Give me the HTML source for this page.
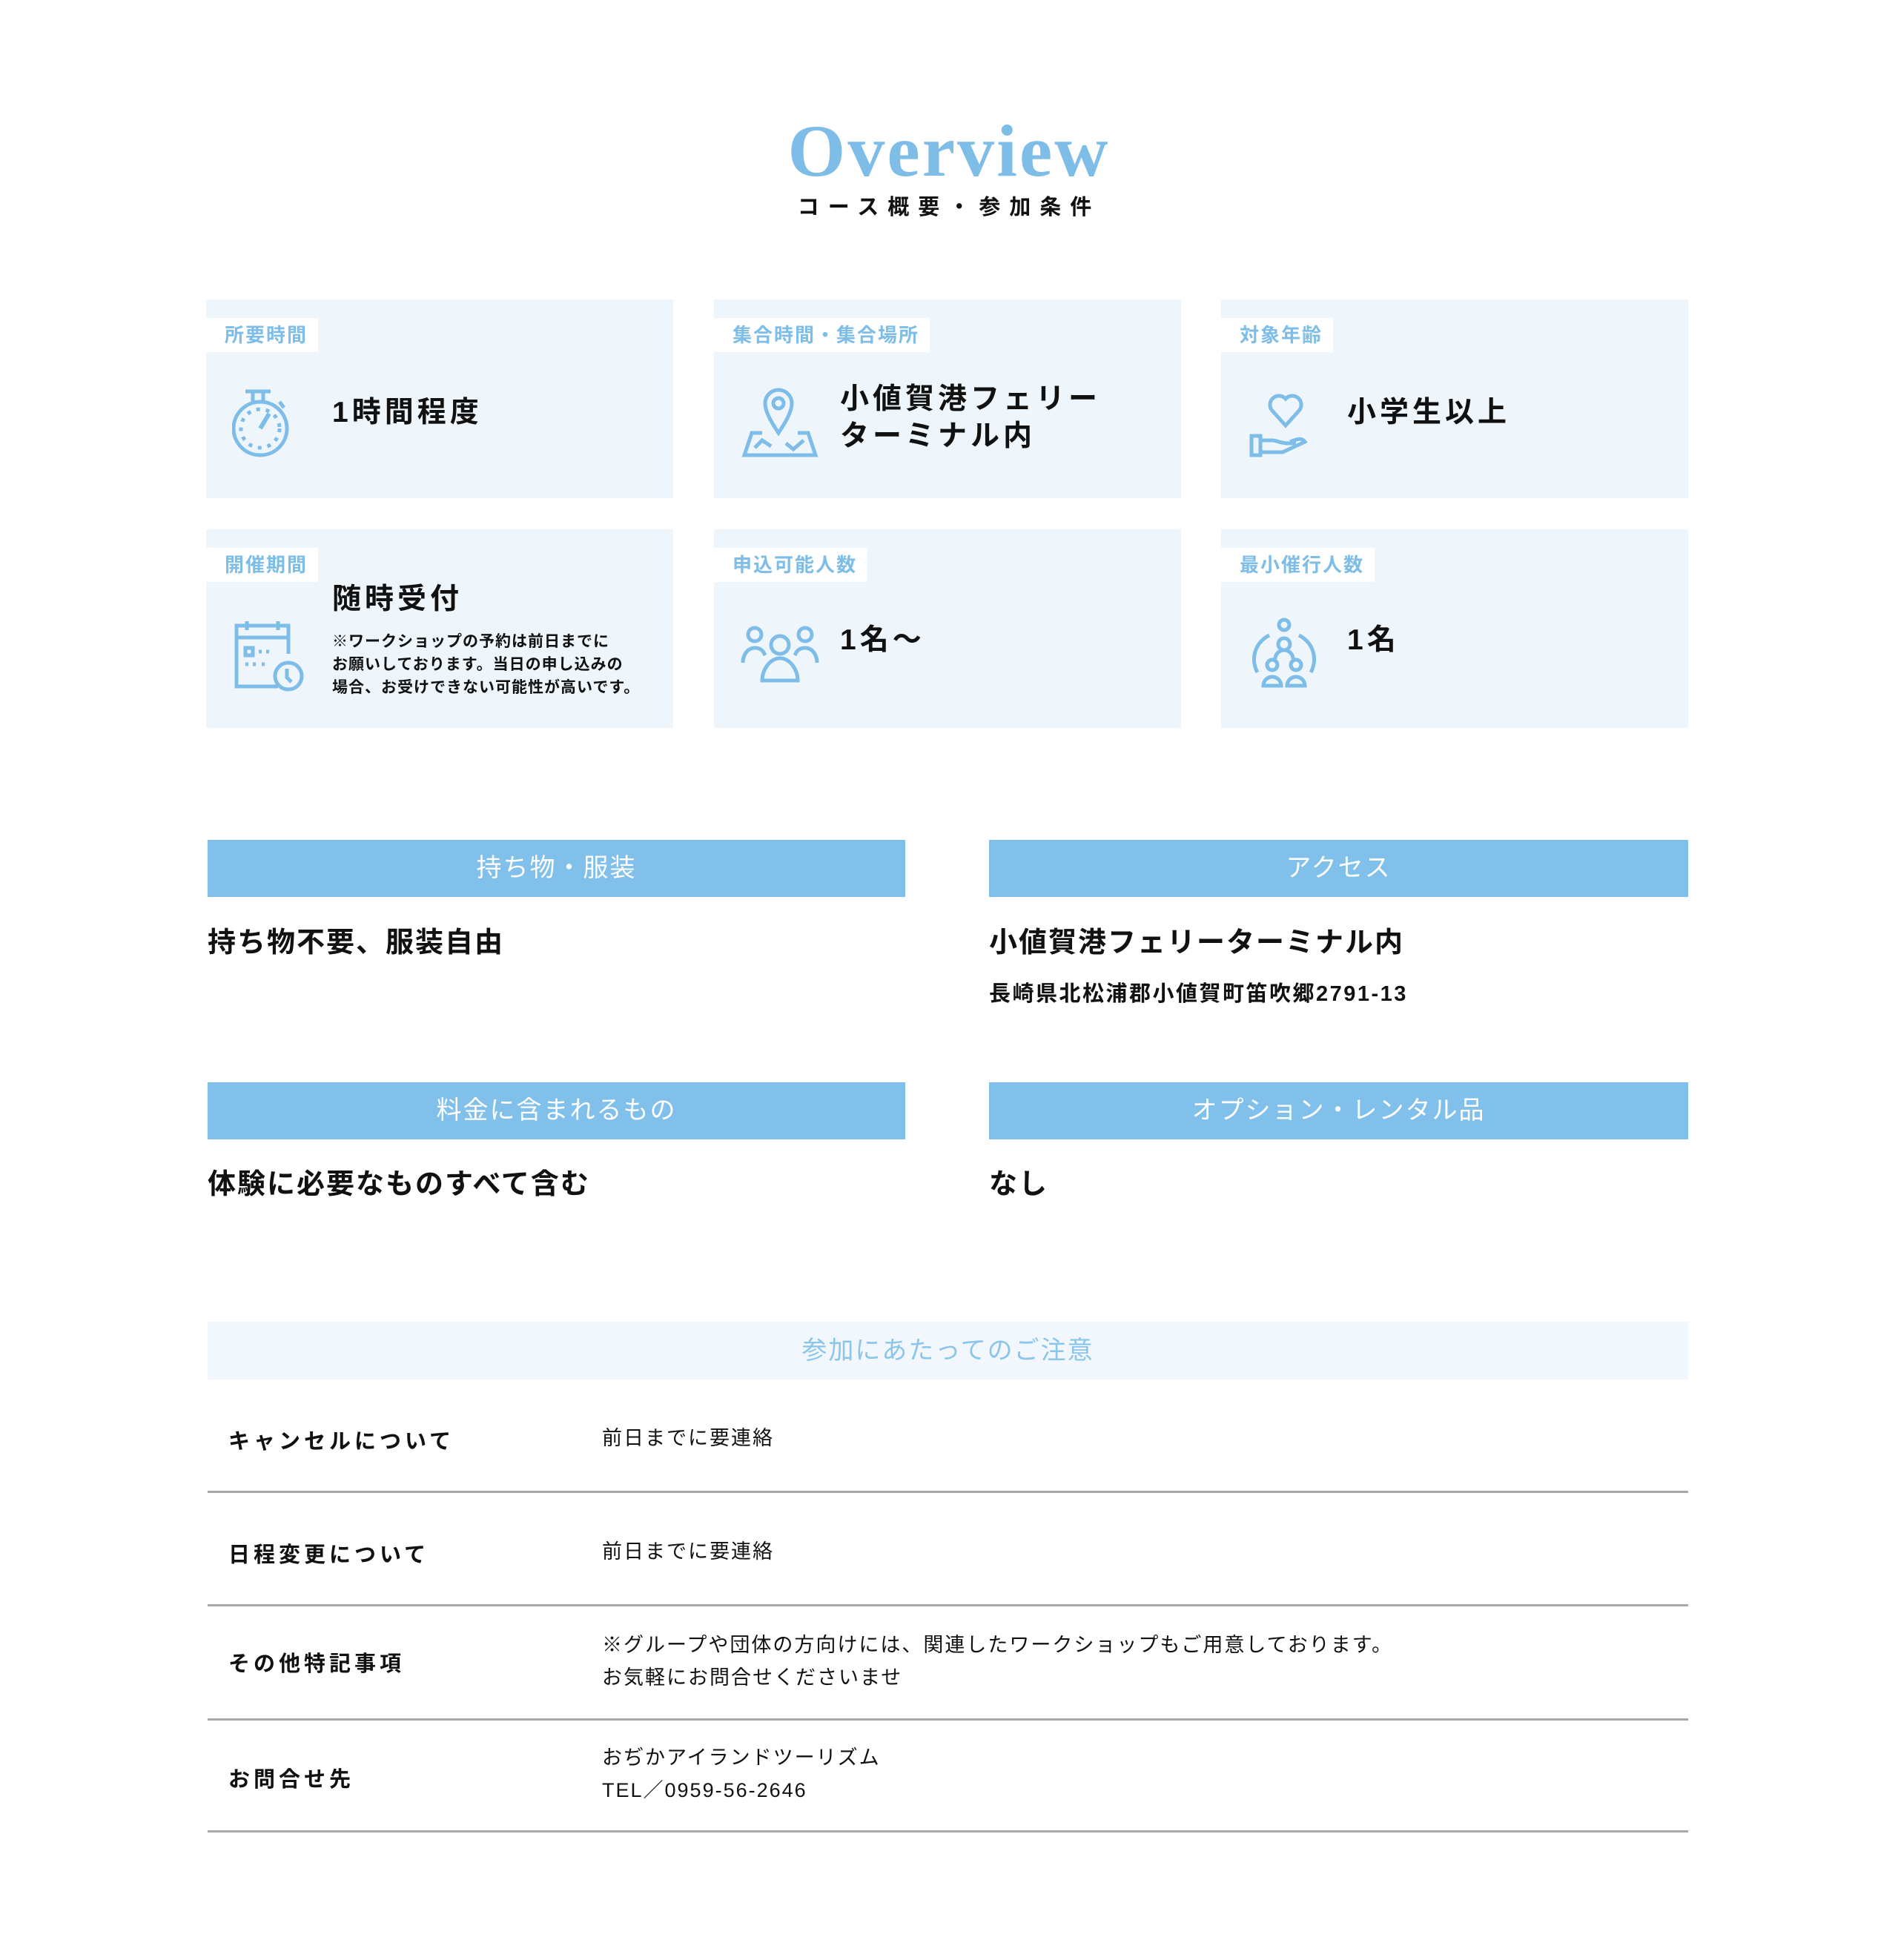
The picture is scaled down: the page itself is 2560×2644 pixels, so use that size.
<!DOCTYPE html>
<html><head><meta charset="utf-8"><style>
*{margin:0;padding:0;box-sizing:border-box}
body{width:2560px;height:2644px;background:#fff;position:relative;font-family:"Liberation Sans","Noto Sans CJK JP",sans-serif;color:#111;overflow:hidden}
.a{position:absolute}
.t{position:absolute;white-space:nowrap}
.card{position:absolute;width:630px;height:268px;background:#eef6fb}
.lab{position:absolute;left:0;top:25px;height:46px;background:#fff;color:#7dbde8;font-weight:bold;font-size:26px;line-height:46px;padding:0 14px 0 25px;letter-spacing:2px}
.main{position:absolute;left:170px;font-weight:bold;font-size:39px;letter-spacing:5px;line-height:50px}
.ic{position:absolute;left:35px;top:110px}
.bar{position:absolute;height:77px;background:#81c0ea;color:#fff;font-size:34px;line-height:77px;text-align:center;letter-spacing:2px}
.ct{position:absolute;font-weight:bold;font-size:38px;letter-spacing:2px;white-space:nowrap}
.rl{position:absolute;left:308px;font-weight:bold;font-size:29px;letter-spacing:5px;white-space:nowrap}
.rv{position:absolute;left:812px;font-size:27px;letter-spacing:2px;line-height:44px;white-space:nowrap}
.ln{position:absolute;left:280px;width:1997px;height:3px;background:#a8a8a8}
</style></head><body>
<div class="t" style="left:0;width:2560px;text-align:center;top:146px;font-family:'Liberation Serif',serif;font-size:100px;font-weight:bold;color:#7dbde8;letter-spacing:3px">Overview</div>
<div class="t" style="left:0;width:2560px;text-align:center;top:256px;font-size:29px;font-weight:bold;letter-spacing:12px">コース概要・参加条件</div>

<div class="card" style="left:278px;top:404px"><div class="lab">所要時間</div>
<svg class="ic" width="90" height="110" viewBox="0 0 90 110" fill="none" stroke="#7dbde8" stroke-width="5"><path d="M18 14h34M28 14v14M42 14v14M64 28l6 8"/><circle cx="38" cy="64" r="36"/><path d="M38 64l12-20" stroke-width="6"/><circle cx="38" cy="64" r="26" stroke-dasharray="5 8"/></svg>
<div class="main" style="top:128px">1時間程度</div></div>

<div class="card" style="left:963px;top:404px"><div class="lab">集合時間・集合場所</div>
<svg class="ic" width="110" height="110" viewBox="0 0 110 110" fill="none" stroke="#7dbde8" stroke-width="5"><path d="M52 70C40 52 34 40 34 30a18 18 0 0 1 36 0c0 10-6 22-18 40z"/><circle cx="52" cy="30" r="7"/><path d="M30 70h-14l-10 30h96l-10-30h-14M20 90l10-10 12 8M62 84l10 8 14-12"/></svg>
<div class="main" style="top:110px;line-height:50px">小値賀港フェリー<br>ターミナル内</div></div>

<div class="card" style="left:1647px;top:404px"><div class="lab">対象年齢</div>
<svg class="ic" width="100" height="110" viewBox="0 0 100 110" fill="none" stroke="#7dbde8" stroke-width="5"><path d="M52 60L34 40a12 12 0 0 1 18-16a12 12 0 0 1 18 16z"/><rect x="6" y="74" width="12" height="26"/><path d="M18 80h16c6 0 10 4 22 4h10M18 96h30l30-14c-4-6-10-4-20 0"/></svg>
<div class="main" style="top:128px">小学生以上</div></div>

<div class="card" style="left:278px;top:714px"><div class="lab">開催期間</div>
<svg class="ic" width="110" height="110" viewBox="0 0 110 110" fill="none" stroke="#7dbde8" stroke-width="5" style="top:120px"><path d="M62 92H6V10h70v38M6 26h70M20 4v12M62 4v12"/><rect x="18" y="40" width="10" height="10"/><path d="M36 45h4M46 45h4M18 62h4M28 62h4M40 62h4" /><circle cx="76" cy="78" r="18"/><path d="M74 68v12l6 6"/></svg>
<div class="main" style="top:70px">随時受付</div>
<div class="t" style="left:170px;top:136px;font-size:21px;font-weight:bold;line-height:31px;letter-spacing:1px">※ワークショップの予約は前日までに<br>お願いしております。当日の申し込みの<br>場合、お受けできない可能性が高いです。</div></div>

<div class="card" style="left:963px;top:714px"><div class="lab">申込可能人数</div>
<svg class="ic" width="110" height="110" viewBox="0 0 110 110" fill="none" stroke="#7dbde8" stroke-width="5" style="top:120px"><circle cx="20" cy="22" r="9"/><circle cx="88" cy="22" r="9"/><circle cx="54" cy="36" r="12"/><path d="M4 60c0-10 6-20 16-20s12 6 14 10M104 60c0-10-6-20-16-20s-12 6-14 10M30 84c0-14 10-30 24-30s24 16 24 30z"/></svg>
<div class="main" style="top:125px">1名～</div></div>

<div class="card" style="left:1647px;top:714px"><div class="lab">最小催行人数</div>
<svg class="ic" width="100" height="110" viewBox="0 0 100 110" fill="none" stroke="#7dbde8" stroke-width="5" style="top:115px"><circle cx="50" cy="14" r="7"/><path d="M30 28a36 36 0 0 0-16 50M70 28a36 36 0 0 1 16 50"/><circle cx="50" cy="40" r="8"/><path d="M38 60a12 12 0 0 1 24 0"/><circle cx="34" cy="68" r="7"/><circle cx="66" cy="68" r="7"/><path d="M22 96a12 12 0 0 1 24 0zM54 96a12 12 0 0 1 24 0z"/></svg>
<div class="main" style="top:125px">1名</div></div>

<div class="bar" style="left:280px;top:1133px;width:941px">持ち物・服装</div>
<div class="bar" style="left:1334px;top:1133px;width:943px">アクセス</div>
<div class="ct" style="left:280px;top:1240px">持ち物不要、服装自由</div>
<div class="ct" style="left:1334px;top:1240px">小値賀港フェリーターミナル内</div>
<div class="t" style="left:1334px;top:1317px;font-size:29px;font-weight:bold;letter-spacing:2.5px">長崎県北松浦郡小値賀町笛吹郷2791-13</div>

<div class="bar" style="left:280px;top:1460px;width:941px">料金に含まれるもの</div>
<div class="bar" style="left:1334px;top:1460px;width:943px">オプション・レンタル品</div>
<div class="ct" style="left:280px;top:1566px">体験に必要なものすべて含む</div>
<div class="ct" style="left:1334px;top:1566px">なし</div>

<div class="a" style="left:280px;top:1783px;width:1997px;height:78px;background:#f1f7fc;color:#8ac5ea;font-size:34px;line-height:78px;text-align:center;letter-spacing:2px">参加にあたってのご注意</div>

<div class="rl" style="top:1921px">キャンセルについて</div>
<div class="rv" style="top:1918px">前日までに要連絡</div>
<div class="ln" style="top:2011px"></div>
<div class="rl" style="top:2074px">日程変更について</div>
<div class="rv" style="top:2071px">前日までに要連絡</div>
<div class="ln" style="top:2164px"></div>
<div class="rl" style="top:2221px">その他特記事項</div>
<div class="rv" style="top:2197px">※グループや団体の方向けには、関連したワークショップもご用意しております。<br>お気軽にお問合せくださいませ</div>
<div class="ln" style="top:2318px"></div>
<div class="rl" style="top:2377px">お問合せ先</div>
<div class="rv" style="top:2349px">おぢかアイランドツーリズム<br>TEL／0959-56-2646</div>
<div class="ln" style="top:2469px"></div>
</body></html>
